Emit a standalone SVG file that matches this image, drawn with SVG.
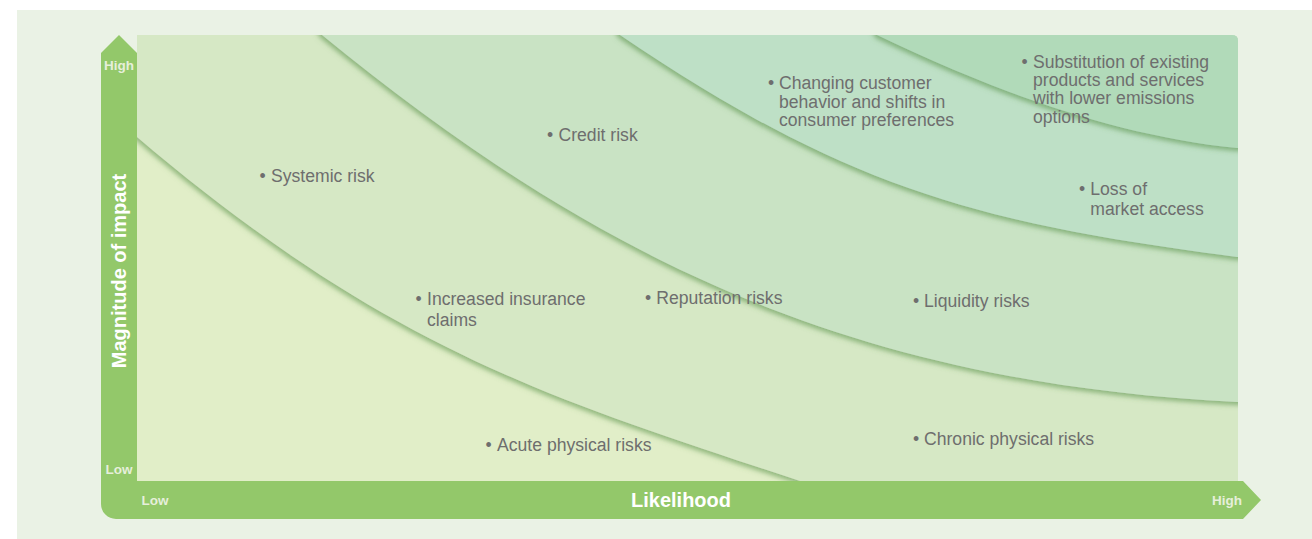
<svg xmlns="http://www.w3.org/2000/svg" width="1312" height="539" viewBox="0 0 1312 539">
  <style>
    .lbl { font-family: "Liberation Sans", Arial, sans-serif; font-size: 17.6px; fill: #6e6e6e; }
    .axis-end { font-family: "Liberation Sans", Arial, sans-serif; font-size: 13.5px; font-weight: bold; fill: #e6efdb; }
    .axis-title { font-family: "Liberation Sans", Arial, sans-serif; font-size: 20px; font-weight: bold; fill: #ffffff; }
  </style>
  <defs>
    <clipPath id="plot-clip">
      <path d="M137,35 H1232 Q1238,35 1238,41 V481 H137 Z"/>
    </clipPath>
    <filter id="band-shadow" x="-10%" y="-10%" width="120%" height="130%">
      <feDropShadow dx="-1.5" dy="3" stdDeviation="2.4" flood-color="#4f8a3e" flood-opacity="0.55"/>
    </filter>
  </defs>

  <!-- page panel -->
  <rect x="17" y="10" width="1295" height="529" fill="#eaf2e5"/>

  <!-- risk bands, low to high -->
  <g id="bands" clip-path="url(#plot-clip)">
    <rect id="band-1" x="137" y="35" width="1101" height="446" fill="#e1eec8"/>
    <path id="band-2" filter="url(#band-shadow)" fill="#d6e8c5"
          d="M120,0 L120,125 L137,137 C387,349.5 550,398.5 800,481 L1300,481 L1300,0 Z"/>
    <path id="band-3" filter="url(#band-shadow)" fill="#c9e3c4"
          d="M300,0 L322,35 C584,249 837,382 1237,402 L1300,402 L1300,0 Z"/>
    <path id="band-4" filter="url(#band-shadow)" fill="#bee0c6"
          d="M600,0 L620,35 C850,191.4 987,224.5 1237,257 L1300,257 L1300,0 Z"/>
    <path id="band-5" filter="url(#band-shadow)" fill="#b1dab9"
          d="M860,0 L877,35 C997,92.6 1117,136 1237,148 L1300,148 L1300,0 Z"/>
  </g>

  <!-- axes -->
  <g id="axes">
    <path fill="#93c86a"
          d="M101,53 L119,35 L137,53 L137,481 L1243,481 L1261,500 L1243,519 L116,519 A15,15 0 0 1 101,504 Z"/>
    <text class="axis-end" x="119" y="70" text-anchor="middle">High</text>
    <text class="axis-end" x="119" y="474" text-anchor="middle">Low</text>
    <text class="axis-end" x="155" y="505" text-anchor="middle">Low</text>
    <text class="axis-end" x="1227" y="505" text-anchor="middle">High</text>
    <text class="axis-title" x="681" y="507" text-anchor="middle">Likelihood</text>
    <text class="axis-title" transform="translate(126,271) rotate(-90)" text-anchor="middle">Magnitude of impact</text>
  </g>

  <!-- risk labels -->
  <g id="risk-systemic">
    <text class="lbl" y="182"><tspan x="259.6">•</tspan><tspan x="271">Systemic risk</tspan></text>
  </g>
  <g id="risk-credit">
    <text class="lbl" y="141"><tspan x="547">•</tspan><tspan x="558.5">Credit risk</tspan></text>
  </g>
  <g id="risk-customer">
    <text class="lbl" y="89"><tspan x="768">•</tspan><tspan x="779">Changing customer</tspan></text>
    <text class="lbl" x="779" y="108">behavior and shifts in</text>
    <text class="lbl" x="779" y="126">consumer preferences</text>
  </g>
  <g id="risk-substitution">
    <text class="lbl" y="67.5"><tspan x="1021.6">•</tspan><tspan x="1033">Substitution of existing</tspan></text>
    <text class="lbl" x="1033" y="86">products and services</text>
    <text class="lbl" x="1033" y="104">with lower emissions</text>
    <text class="lbl" x="1033" y="122.5">options</text>
  </g>
  <g id="risk-market-access">
    <text class="lbl" y="194.5"><tspan x="1079">•</tspan><tspan x="1090.3">Loss of</tspan></text>
    <text class="lbl" x="1090.3" y="214.5">market access</text>
  </g>
  <g id="risk-insurance">
    <text class="lbl" y="305"><tspan x="415.6">•</tspan><tspan x="427">Increased insurance</tspan></text>
    <text class="lbl" x="427" y="325.7">claims</text>
  </g>
  <g id="risk-reputation">
    <text class="lbl" y="304"><tspan x="645">•</tspan><tspan x="656.3">Reputation risks</tspan></text>
  </g>
  <g id="risk-liquidity">
    <text class="lbl" y="306.7"><tspan x="912.9">•</tspan><tspan x="924">Liquidity risks</tspan></text>
  </g>
  <g id="risk-acute">
    <text class="lbl" y="450.7"><tspan x="485.6">•</tspan><tspan x="497">Acute physical risks</tspan></text>
  </g>
  <g id="risk-chronic">
    <text class="lbl" y="444.5"><tspan x="912.9">•</tspan><tspan x="924">Chronic physical risks</tspan></text>
  </g>
</svg>
